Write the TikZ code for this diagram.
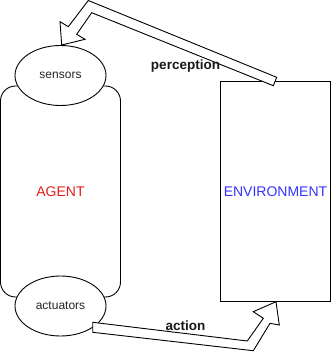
\documentclass[tikz,border=0pt]{standalone}
\usepackage{fontspec}
\setmainfont{Liberation Sans}
\usetikzlibrary{shapes.geometric}
\definecolor{agentred}{HTML}{E31C1C}
\definecolor{envblue}{HTML}{3333FF}
\begin{document}
\begin{tikzpicture}[x=1pt, y=-1pt, line width=0.9pt,
  body/.style={draw, rounded corners=15pt, inner sep=0pt,
    minimum width=120pt, minimum height=211pt},
  organ/.style={draw, ellipse, fill=white, inner sep=0pt,
    minimum width=91pt, minimum height=60pt,
    font=\fontsize{12}{14}\selectfont, text=black!85},
  world/.style={draw, inner sep=0pt, minimum width=110pt, minimum height=219.5pt},
  bigtext/.style={font=\fontsize{14}{16}\selectfont},
  flow/.style={draw, fill=white, line join=miter},
  flowlabel/.style={font=\bfseries\fontsize{13.5}{15}\selectfont, text=black!90}]
\useasboundingbox (0,0) rectangle (336,353);

% agent body with its sensor and actuator ends
\node[body, bigtext, text=agentred] (agent) at (60.5,191.5) {AGENT};
\node[organ] (sensors) at (60.5,75.5) {sensors};
\node[organ] (actuators) at (60.5,306) {actuators};

% environment
\node[world, bigtext, text=envblue] (env) at (275.5,191.25) {ENVIRONMENT};

% perception: block arrow from the environment back to the sensors
\draw[flow] (276.7,77.3) -- (88.3,0.5) -- (68.3,26.7) -- (60,21.7)
  -- (61.7,45) -- (85,39.3) -- (76.7,34.3) -- (91.7,12.7)
  -- (273.3,85.7) -- cycle;
\node[flowlabel] (perception) at (185.5,66) {perception};

% action: block arrow from the actuators to the environment
\draw[flow] (92.7,322.3) -- (247.3,341) -- (263.3,318.3) -- (253.3,311.7)
  -- (276,301.7) -- (279.3,325) -- (270,323.3) -- (253.3,350.7)
  -- (92.7,332.3) -- cycle;
\node[flowlabel] (action) at (185.5,326) {action};
\end{tikzpicture}
\end{document}
